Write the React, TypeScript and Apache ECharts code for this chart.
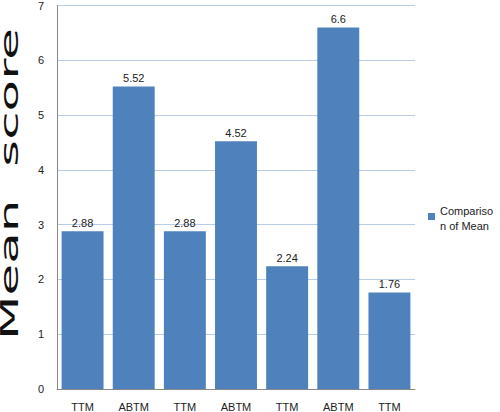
import { useEffect, useRef } from 'react';
import * as echarts from 'echarts';

const categories = ['TTM', 'ABTM', 'TTM', 'ABTM', 'TTM', 'ABTM', 'TTM'];
const meanScores = [2.88, 5.52, 2.88, 4.52, 2.24, 6.6, 1.76];
const seriesName = 'Comparison of Mean';
const axisTitle = 'Mean  score';

const BAR_COLOR = '#4F81BD';
const FONT = '"Liberation Sans", Arial, sans-serif';

// square at the top of a taller box, so the icon lines up with the first text line
const LEGEND_ICON = 'path://M0,0H7V7H0Z M0,9.99H0.01V10H0Z';

export default function App() {
  const chartRef = useRef<HTMLDivElement | null>(null);

  useEffect(() => {
    if (!chartRef.current) return undefined;
    const chart = echarts.init(chartRef.current, undefined, { renderer: 'svg' });

    chart.setOption({
      animation: false,
      textStyle: { fontFamily: FONT },
      grid: { left: 57, right: 85, top: 4, bottom: 22 },
      legend: {
        left: 428,
        top: 203,
        padding: 0,
        orient: 'vertical',
        icon: LEGEND_ICON,
        itemWidth: 7,
        itemHeight: 10,
        formatter: () => 'Compariso\nn of Mean',
        textStyle: { fontSize: 11, color: '#222', lineHeight: 15 },
        data: [seriesName],
      },
      xAxis: {
        type: 'category',
        data: categories,
        axisLine: { lineStyle: { color: '#888', width: 1 } },
        axisTick: { show: false },
        axisLabel: { color: '#222', fontSize: 11, margin: 12, interval: 0 },
      },
      yAxis: {
        type: 'value',
        min: 0,
        max: 7,
        interval: 1,
        axisLine: { show: true, lineStyle: { color: '#888', width: 1 } },
        axisTick: { show: false },
        axisLabel: { color: '#222', fontSize: 11, margin: 13 },
        splitLine: { lineStyle: { color: '#B9CDE8', width: 1 } },
      },
      series: [
        {
          name: seriesName,
          type: 'bar',
          data: meanScores,
          barCategoryGap: '18%',
          itemStyle: { color: BAR_COLOR },
          label: {
            show: true,
            position: 'top',
            distance: 3,
            color: '#222',
            fontSize: 11,
          },
        },
      ],
      graphic: [
        {
          type: 'text',
          x: 10,
          y: 184,
          rotation: Math.PI / 2,
          scaleX: 2.15,
          scaleY: 1,
          style: {
            text: axisTitle,
            fontSize: 24,
            fontFamily: '"DejaVu Sans", sans-serif',
            fill: '#111',
            align: 'center',
            verticalAlign: 'middle',
          },
        },
      ],
    });

    return () => {
      chart.dispose();
    };
  }, []);

  return (
    <div
      ref={chartRef}
      style={{ position: 'fixed', left: 0, top: 0, width: 500, height: 412, background: '#fff' }}
    />
  );
}
